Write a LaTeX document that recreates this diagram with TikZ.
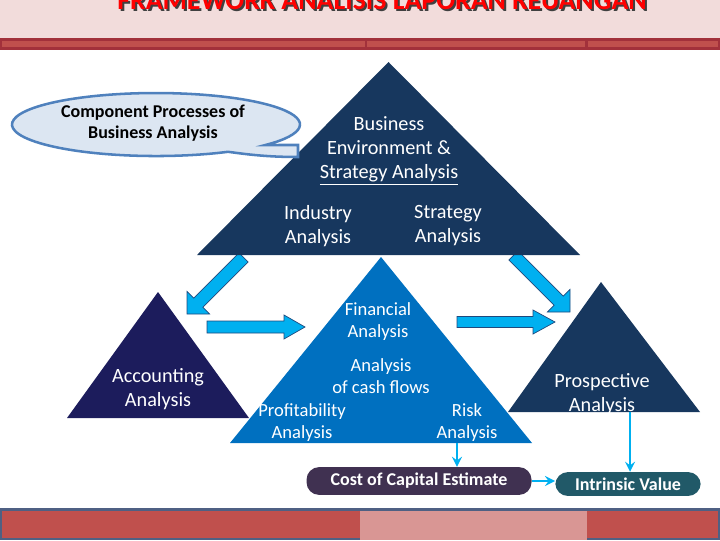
\documentclass[tikz,border=0pt]{standalone}
\usepackage{fontspec}
\setmainfont{Carlito}
\usetikzlibrary{arrows,positioning}

\definecolor{headpink}{HTML}{F2DCDB}
\definecolor{bandborder}{HTML}{A2313B}
\definecolor{bandred}{HTML}{C0504D}
\definecolor{bandpink}{HTML}{D99694}
\definecolor{footborder}{HTML}{4F6083}
\definecolor{darknavy}{HTML}{17375E}
\definecolor{acctnavy}{HTML}{1C1C5C}
\definecolor{finblue}{HTML}{0070C0}
\definecolor{arrowblue}{HTML}{00B0F0}
\definecolor{arrowline}{HTML}{1F497D}
\definecolor{bubblefill}{HTML}{DCE6F2}
\definecolor{bubbleline}{HTML}{4F81BD}
\definecolor{costpurple}{HTML}{403151}
\definecolor{valueteal}{HTML}{215968}

\begin{document}
\begin{tikzpicture}[
    x=0.025cm, y=-0.025cm,
    tritext/.style={text=white, align=center, font=\fontsize{14.4}{17}\selectfont},
    fintext/.style={text=white, align=center, font=\fontsize{13.2}{15.6}\selectfont},
    titletext/.style={anchor=base, font=\bfseries\fontsize{19.8}{22}\selectfont},
    bigarrow/.style={fill=arrowblue, draw=arrowline, line width=0.5pt},
    valuebox/.style={rounded corners=9pt, text=white, inner sep=0pt, font=\bfseries\fontsize{12.8}{14}\selectfont},
    link/.style={->, >=stealth, line width=2.1pt, arrowblue}
]
    \useasboundingbox (0,0) rectangle (720,540);

    % header and footer strips
    \fill[headpink] (0,0) rectangle (720,38);
    \node[titletext, text=black!75] (headshadow) at (384,11) {FRAMEWORK ANALISIS LAPORAN KEUANGAN};
    \node[titletext, text=red] (heading) at (382,9) {FRAMEWORK ANALISIS LAPORAN KEUANGAN};
    \fill[bandborder] (0,38) rectangle (720,50);
    \foreach \a/\b in {2/365, 367/585, 588/718}
        \fill[bandred] (\a,41) rectangle (\b,47);
    \fill[footborder] (0,508) rectangle (720,540);
    \fill[bandred] (2,511) rectangle (360,538);
    \fill[bandpink] (360,511) rectangle (587,540);
    \fill[bandred] (587,511) rectangle (718,538);

    % block arrows, tails hidden under the top triangle
    \foreach \tx/\ty/\ang/\len/\hh/\hl/\sw in {187/314/-135/80/16/16/6.5, 570/312/-45/80/16/16/6.5, 305/327/0/98/12/21/6, 555/322/0/98/12/22/5.5}
        \filldraw[bigarrow, shift={(\tx,\ty)}, rotate=\ang] (0,0) -- (-\hl,\hh) -- (-\hl,\sw) -- (-\len,\sw)
            -- (-\len,-\sw) -- (-\hl,-\sw) -- (-\hl,-\hh) -- cycle;

    % triangles
    \fill[darknavy] (388.5,62) -- (580,255) -- (197,255) -- cycle;
    \fill[acctnavy] (158,292) -- (249,418) -- (67,418) -- cycle;
    \fill[finblue] (381,257) -- (532,443) -- (230,443) -- cycle;
    \fill[darknavy] (601,282) -- (700,412) -- (508,412) -- cycle;

    \node[tritext] (bizenv) at (389,151) {Business\\Environment \&\\\underline{Strategy Analysis}};
    \node[tritext] (industry) at (318,226) {Industry\\Analysis};
    \node[tritext] (strategy) at (448,226) {Strategy\\Analysis};
    \node[fintext] (fin) at (378,322) {Financial\\Analysis};
    \node[fintext] (cashflow) at (381,376) {Analysis\\of cash flows};
    \node[fintext] (profit) at (302,423) {Profitability\\Analysis};
    \node[fintext] (risk) at (467,423) {Risk\\Analysis};
    \node[tritext] (acct) at (158,389) {Accounting\\Analysis};
    \node[tritext] (prosp) at (602,394) {Prospective\\Analysis};

    % speech bubble
    \filldraw[fill=bubblefill, draw=bubbleline, line width=1.8pt] (298,145) -- (298,157)
        .. controls (265,157) and (245,154) .. (228,151.8)
        arc[start angle=60, end angle=400.6, x radius=144, y radius=31.5] -- cycle;
    \node[align=center, font=\bfseries\fontsize{12.8}{14.9}\selectfont] (bubble) at (153,123) {Component Processes of\\Business Analysis};

    % valuation boxes
    \coordinate (finfoot) at (457,443);
    \coordinate (prospfoot) at (630,412);
    \node[valuebox, fill=costpurple, minimum width=160pt, minimum height=19.8pt] (cost) at (419,481) {\raisebox{-1.5pt}{Cost of Capital Estimate}};
    \node[valuebox, fill=valueteal, minimum width=103.4pt, minimum height=17pt] (value) at (628,484) {Intrinsic Value};
    \draw[link] (finfoot) -- (finfoot |- cost.north);
    \draw[link] (prospfoot) -- (prospfoot |- value.north);
    \draw[link] (cost.east) -- (cost.east -| value.west);
\end{tikzpicture}
\end{document}
